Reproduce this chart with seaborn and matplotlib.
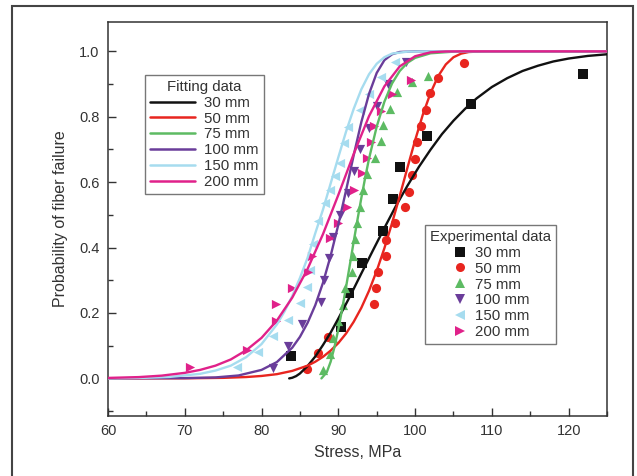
import matplotlib
matplotlib.use("Agg")
import matplotlib.pyplot as plt
from matplotlib.lines import Line2D
from matplotlib.patches import Rectangle
from matplotlib.ticker import MultipleLocator
import seaborn as sns
import pandas as pd

# ---- series names and colours ----
lengths = ["30 mm", "50 mm", "75 mm", "100 mm", "150 mm", "200 mm"]
colors = ["#111111", "#e8251f", "#5dbb63", "#6a3d9a", "#a6dcef", "#e0218a"]
markers = ["s", "o", "^", "v", "<", ">"]

# ---- experimental data: stress (MPa) and failure probability ----
exp_x_30 = [83.8, 90.3, 91.4, 93.1, 95.8, 97.1, 98.0, 101.5, 107.3, 121.9]
exp_p_30 = [0.067, 0.156, 0.26, 0.352, 0.45, 0.547, 0.645, 0.74, 0.838, 0.93]

exp_x_50 = [85.9, 87.3, 88.6, 94.6, 94.9, 95.2, 96.2, 96.2, 97.4, 98.7,
            99.2, 99.6, 100.0, 100.3, 100.8, 101.4, 102.0, 103.0, 106.4]
exp_p_50 = [0.030, 0.078, 0.127, 0.226, 0.275, 0.324, 0.373, 0.423, 0.474, 0.523,
            0.571, 0.621, 0.672, 0.722, 0.772, 0.822, 0.872, 0.918, 0.963]

exp_x_75 = [88.0, 88.9, 89.3, 90.0, 90.6, 90.9, 91.8, 91.9, 92.2, 92.4,
            92.8, 93.2, 93.7, 94.8, 95.6, 95.8, 96.7, 97.6, 99.6, 101.7]
exp_p_75 = [0.025, 0.075, 0.125, 0.175, 0.225, 0.275, 0.325, 0.375, 0.425, 0.475,
            0.525, 0.575, 0.625, 0.675, 0.725, 0.775, 0.825, 0.875, 0.905, 0.925]

exp_x_100 = [81.5, 83.4, 85.3, 87.7, 88.2, 88.8, 89.3, 90.2, 91.2, 92.0,
             92.8, 94.0, 95.0, 96.5, 98.8]
exp_p_100 = [0.033, 0.100, 0.167, 0.233, 0.300, 0.367, 0.433, 0.500, 0.567, 0.633,
             0.700, 0.767, 0.833, 0.900, 0.967]

exp_x_150 = [76.8, 79.5, 81.5, 83.5, 85.0, 85.9, 86.3, 86.7, 87.3, 88.3,
             88.9, 89.6, 90.2, 90.8, 91.3, 92.8, 94.0, 95.5, 97.4]
exp_p_150 = [0.035, 0.08, 0.13, 0.18, 0.23, 0.28, 0.33, 0.41, 0.48, 0.535,
             0.575, 0.62, 0.66, 0.72, 0.77, 0.82, 0.87, 0.92, 0.966]

exp_x_200 = [70.7, 78.1, 81.9, 81.9, 84.0, 86.0, 86.6, 88.9, 90.0, 91.1,
             92.0, 93.1, 93.7, 94.2, 94.6, 95.6, 97.0, 99.5]
exp_p_200 = [0.035, 0.086, 0.177, 0.228, 0.277, 0.324, 0.373, 0.428, 0.475, 0.523,
             0.575, 0.627, 0.673, 0.722, 0.772, 0.818, 0.870, 0.912]

# ---- fitted curves: stress (MPa) and failure probability ----
fit_x_30 = [83.6, 84.0, 84.5, 85, 86, 87, 88, 89, 90, 91.5, 93, 94.5, 96, 97.5, 99,
            100.5, 102, 103.5, 105, 106.5, 108, 110, 112, 114, 116, 118, 120, 122.5, 125]
fit_p_30 = [0.0, 0.002, 0.007, 0.015, 0.038, 0.067, 0.102, 0.140, 0.183, 0.250, 0.321,
            0.391, 0.460, 0.527, 0.589, 0.647, 0.699, 0.747, 0.788, 0.824, 0.856, 0.891,
            0.918, 0.940, 0.956, 0.969, 0.978, 0.986, 0.991]

fit_x_50 = [60, 70, 75, 78, 80, 82, 84, 86, 87, 88, 89, 90, 91, 92, 93, 94, 95, 96,
            97, 98, 99, 100, 101, 102, 103, 104, 105, 106, 107, 109, 125]
fit_p_50 = [0.0, 0.0003, 0.0017, 0.0042, 0.0075, 0.013, 0.023, 0.039, 0.051, 0.066,
            0.085, 0.108, 0.137, 0.173, 0.216, 0.268, 0.329, 0.398, 0.475, 0.558,
            0.644, 0.728, 0.806, 0.872, 0.924, 0.960, 0.982, 0.993, 0.998, 1.0, 1.0]

fit_x_75 = [87.8, 88.5, 89, 89.5, 90, 90.5, 91, 91.5, 92, 92.5, 93, 93.5, 94, 95, 96,
            97, 98, 99, 100, 102, 105, 110, 125]
fit_p_75 = [0.0, 0.019, 0.051, 0.096, 0.150, 0.212, 0.278, 0.347, 0.418, 0.486, 0.552,
            0.614, 0.672, 0.770, 0.846, 0.902, 0.940, 0.965, 0.980, 0.994, 0.999, 1.0, 1.0]

fit_x_100 = [60, 70, 74, 77, 80, 82, 84, 85, 86, 87, 88, 89, 90, 91, 92, 93, 94, 95,
             96, 97, 98, 100, 125]
fit_p_100 = [0.0, 0.001, 0.003, 0.009, 0.026, 0.050, 0.094, 0.127, 0.170, 0.224, 0.292,
             0.375, 0.470, 0.574, 0.682, 0.784, 0.870, 0.934, 0.973, 0.991, 0.998, 1.0, 1.0]

fit_x_150 = [60, 65, 68, 72, 74, 76, 78, 80, 82, 83, 84, 85, 86, 87, 88, 89, 90, 91,
             92, 93, 94, 95, 96, 97, 99, 102, 125]
fit_p_150 = [0.0, 0.002, 0.0045, 0.014, 0.024, 0.039, 0.065, 0.105, 0.165, 0.205, 0.252,
             0.307, 0.369, 0.444, 0.516, 0.596, 0.676, 0.754, 0.824, 0.884, 0.930, 0.962,
             0.982, 0.993, 0.999, 1.0, 1.0]

fit_x_200 = [60, 64, 67, 70, 72, 74, 76, 78, 80, 82, 84, 86, 88, 90, 92, 94, 96, 98,
             100, 102, 104, 106, 125]
fit_p_200 = [0.0015, 0.004, 0.0085, 0.017, 0.026, 0.039, 0.058, 0.086, 0.124, 0.177,
             0.247, 0.335, 0.441, 0.561, 0.686, 0.802, 0.893, 0.954, 0.985, 0.997,
             0.9996, 1.0, 1.0]

fit_x = [fit_x_30, fit_x_50, fit_x_75, fit_x_100, fit_x_150, fit_x_200]
fit_p = [fit_p_30, fit_p_50, fit_p_75, fit_p_100, fit_p_150, fit_p_200]
exp_x = [exp_x_30, exp_x_50, exp_x_75, exp_x_100, exp_x_150, exp_x_200]
exp_p = [exp_p_30, exp_p_50, exp_p_75, exp_p_100, exp_p_150, exp_p_200]

x_ticks = [60, 70, 80, 90, 100, 110, 120]
y_ticks = [0.0, 0.2, 0.4, 0.6, 0.8, 1.0]

# ---- style ----
sns.set_style("ticks")
plt.rcParams["font.family"] = ["Liberation Sans", "DejaVu Sans"]
ink = "#333333"
plt.rcParams.update({
    "text.color": ink, "axes.labelcolor": ink,
    "xtick.color": ink, "ytick.color": ink, "axes.edgecolor": ink,
})

fig = plt.figure(figsize=(6.37, 4.76), dpi=100)
ax = fig.add_axes([0.1695, 0.126, 0.7835, 0.828])

fits = pd.concat(
    [pd.DataFrame({"Stress": x, "P": p, "Length": name})
     for x, p, name in zip(fit_x, fit_p, lengths)], ignore_index=True)
points = pd.concat(
    [pd.DataFrame({"Stress": x, "P": p, "Length": name})
     for x, p, name in zip(exp_x, exp_p, lengths)], ignore_index=True)

palette = dict(zip(lengths, colors))

# scatter points first, fitted curves over them
for name, mk in zip(lengths, markers):
    sns.scatterplot(data=points[points["Length"] == name], x="Stress", y="P",
                    color=palette[name], marker=mk, s=44, linewidth=0,
                    ax=ax, legend=False, zorder=2)
for name in lengths:
    sns.lineplot(data=fits[fits["Length"] == name], x="Stress", y="P",
                 color=palette[name], linewidth=1.7, sort=False,
                 ax=ax, legend=False, zorder=3)

ax.set_xlim(60, 125)
ax.set_ylim(-0.115, 1.09)
ax.set_xticks(x_ticks)
ax.set_yticks(y_ticks)
ax.set_yticklabels([f"{v:.1f}" for v in y_ticks])
ax.xaxis.set_minor_locator(MultipleLocator(5))
ax.yaxis.set_minor_locator(MultipleLocator(0.1))
ax.tick_params(which="both", direction="in", top=False, right=False,
               labelsize=10.5, width=1.0)
ax.tick_params(which="major", length=6, pad=6)
ax.tick_params(which="minor", length=3.5)
for sp in ax.spines.values():
    sp.set_linewidth(1.1)
    sp.set_color(ink)

ax.set_xlabel("Stress, MPa", fontsize=11.5, labelpad=5)
ax.set_ylabel("Probability of fiber failure", fontsize=11.5, labelpad=8)

# ---- legends ----
line_handles = [Line2D([], [], color=c, lw=1.8) for c in colors]
leg1 = ax.legend(line_handles, lengths, title="Fitting data",
                 loc="upper left", bbox_to_anchor=(0.074, 0.866), borderaxespad=0,
                 fontsize=10.8, title_fontsize=10.8, frameon=True, fancybox=False,
                 edgecolor="#555555", handlelength=3.0, handletextpad=0.6,
                 labelspacing=0.12, borderpad=0.35)
leg1.get_frame().set_linewidth(1.0)
ax.add_artist(leg1)

marker_handles = [Line2D([], [], color=c, marker=m, lw=0, markersize=6.5,
                         markeredgewidth=0) for c, m in zip(colors, markers)]
leg2 = ax.legend(marker_handles, lengths, title="Experimental data",
                 loc="upper left", bbox_to_anchor=(0.635, 0.485), borderaxespad=0,
                 fontsize=10.8, title_fontsize=10.8, frameon=True, fancybox=False,
                 edgecolor="#555555", handlelength=1.0, handletextpad=0.5,
                 labelspacing=0.12, borderpad=0.35)
leg2.get_frame().set_linewidth(1.0)

# ---- outer frame around the figure ----
fig.patches.append(Rectangle((0.0188, -0.02), 0.975, 1.007, transform=fig.transFigure,
                             fill=False, edgecolor="#444444", linewidth=1.5))

fig.savefig("out.png", dpi=100, facecolor="white")
